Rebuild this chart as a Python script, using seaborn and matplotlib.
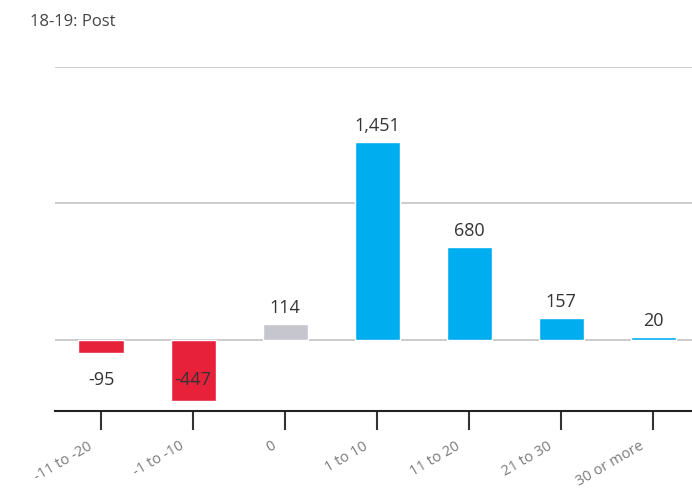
import matplotlib
matplotlib.use("Agg")
import matplotlib.pyplot as plt
import matplotlib.transforms as mtransforms
import seaborn as sns
import pandas as pd

# data
categories = ["-11 to -20", "-1 to -10", "0", "1 to 10", "11 to 20", "21 to 30", "30 or more"]
values = [-95, -447, 114, 1451, 680, 157, 20]
bar_colors = ["#E8213B", "#E8213B", "#C6C6CE", "#00AEEF", "#00AEEF", "#00AEEF", "#00AEEF"]
title = "18-19: Post"

sns.set_theme(style="white")
plt.rcParams["font.family"] = ["Open Sans", "DejaVu Sans"]

df = pd.DataFrame({"cat": categories, "val": values})

fig = plt.figure(figsize=(6.92, 4.96), dpi=100)
ax = fig.add_axes([0.0795, 0.1714, 0.9205, 0.6935])

sns.barplot(data=df, x="cat", y="val", hue="cat", palette=bar_colors,
            legend=False, width=0.49, ax=ax, saturation=1)

ax.set_xlim(-0.5, 6.42)
ax.set_ylim(-523, 2000)

# gridlines
for yv in [0, 1000, 2000]:
    ax.axhline(yv, color="#C4C4C4", lw=1.2, zorder=0)

# value labels
for i, v in enumerate(values):
    if v >= 0:
        ax.annotate(f"{v:,}", (i, v), xytext=(0, 5), textcoords="offset points",
                    ha="center", va="bottom", fontsize=13, color="#333333")
    else:
        ax.text(i, -295, f"{v:,}", ha="center", va="center", fontsize=13, color="#333333")

for s in ["top", "right", "left"]:
    ax.spines[s].set_visible(False)
ax.spines["bottom"].set_color("#222222")
ax.spines["bottom"].set_linewidth(1.5)

ax.set_yticks([])
ax.set_xlabel("")
ax.set_ylabel("")
ax.tick_params(axis="x", bottom=True, length=14, width=1.5, color="#333333",
               labelsize=10.5, labelcolor="#7A7A7A", pad=6)
shift = mtransforms.ScaledTranslation(-14 / 100, 0, fig.dpi_scale_trans)
for lbl in ax.get_xticklabels():
    lbl.set_rotation(30)
    lbl.set_ha("right")
    lbl.set_rotation_mode("anchor")
    lbl.set_transform(lbl.get_transform() + shift)

fig.text(0.043, 0.955, title, fontsize=12, color="#444444", va="center", ha="left")

fig.savefig("out.png", dpi=100)
